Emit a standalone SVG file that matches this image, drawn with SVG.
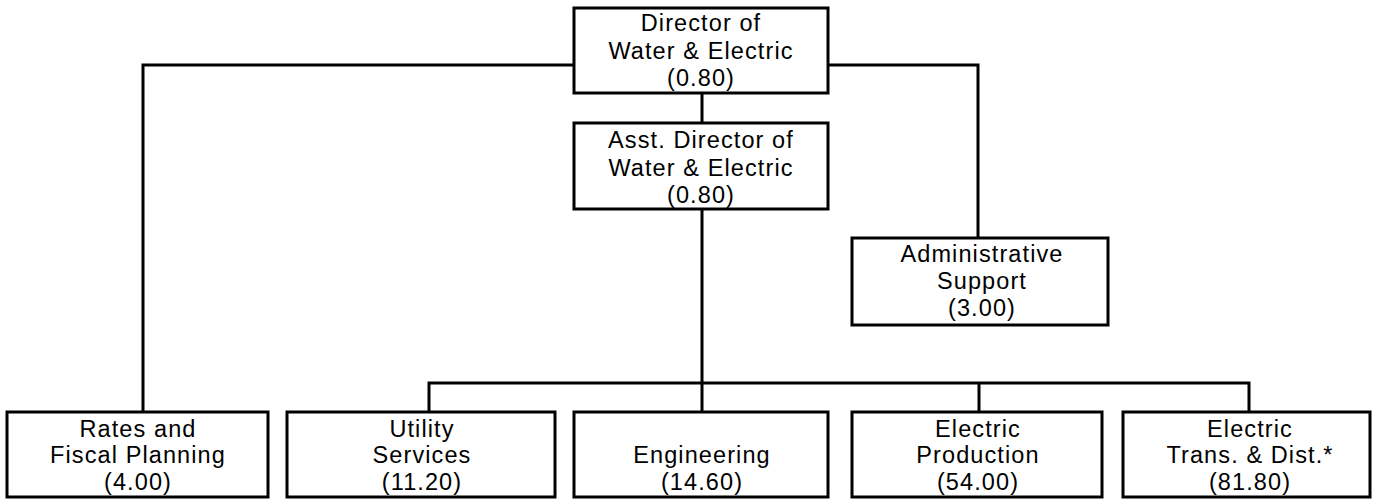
<svg xmlns="http://www.w3.org/2000/svg" width="1375" height="499" viewBox="0 0 1375 499">
<style>
.box{fill:#fff;stroke:#000;stroke-width:3}
.ln{fill:none;stroke:#000;stroke-width:3}
text{font-family:"Liberation Sans",Arial,sans-serif;font-size:23.5px;letter-spacing:1.1px;fill:#000;text-anchor:middle}
</style>
<rect width="1375" height="499" fill="#fff"/>
<g id="connectors">
<path class="ln" d="M575 65 H143 V412"/>
<path class="ln" d="M827 65 H978 V238"/>
<path class="ln" d="M702 93 V123"/>
<path class="ln" d="M702 209 V412"/>
<path class="ln" d="M429 412 V383 H1249 V412"/>
<path class="ln" d="M979 383 V412"/>
</g>
<g id="director">
<rect class="box" x="574" y="8" width="254" height="85"/>
<text x="701" y="31">Director of</text>
<text x="701" y="59">Water &amp; Electric</text>
<text x="701" y="86">(0.80)</text>
</g>
<g id="asst-director">
<rect class="box" x="574" y="123" width="254" height="86"/>
<text x="701" y="148">Asst. Director of</text>
<text x="701" y="176">Water &amp; Electric</text>
<text x="701" y="203">(0.80)</text>
</g>
<g id="admin-support">
<rect class="box" x="852" y="238" width="256" height="87"/>
<text x="982" y="262">Administrative</text>
<text x="982" y="289">Support</text>
<text x="982" y="316">(3.00)</text>
</g>
<g id="rates">
<rect class="box" x="7" y="412" width="261" height="85"/>
<text x="138" y="437">Rates and</text>
<text x="138" y="463">Fiscal Planning</text>
<text x="138" y="490">(4.00)</text>
</g>
<g id="utility">
<rect class="box" x="287" y="412" width="268" height="85"/>
<text x="422" y="437">Utility</text>
<text x="422" y="463">Services</text>
<text x="422" y="490">(11.20)</text>
</g>
<g id="engineering">
<rect class="box" x="574" y="412" width="254" height="85"/>
<text x="702" y="463">Engineering</text>
<text x="702" y="490">(14.60)</text>
</g>
<g id="production">
<rect class="box" x="852" y="412" width="250" height="85"/>
<text x="978" y="437">Electric</text>
<text x="978" y="463">Production</text>
<text x="978" y="490">(54.00)</text>
</g>
<g id="trans-dist">
<rect class="box" x="1123" y="412" width="247" height="85"/>
<text x="1250" y="437">Electric</text>
<text x="1250" y="463">Trans. &amp; Dist.*</text>
<text x="1250" y="490">(81.80)</text>
</g>
</svg>
